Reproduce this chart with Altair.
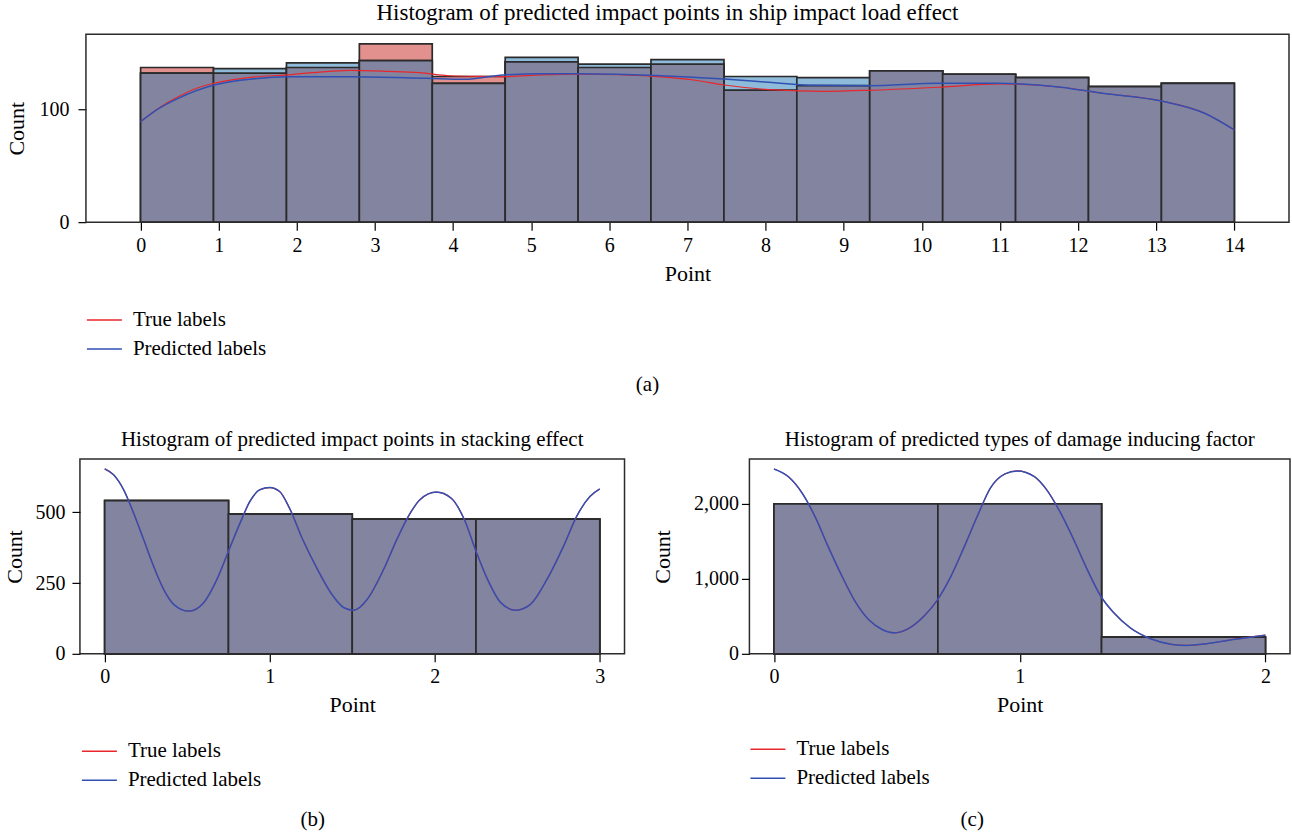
import altair as alt
import pandas as pd

FONT = "Liberation Serif"
FS_TICK = 20
FS_TEXT = 21
FS_AXT = 22
RED = "#e8262c"
BLUE = "#3150b3"
SALMON = "#e3918f"
LIGHTBLUE = "#8fbbda"
OVERLAP = "#8385a0"
EDGE = "#2b2b2b"
SERIES = ["True labels", "Predicted labels"]

# ---------- (a) ship impact load effect ----------
a_edges = [0.0, 0.933, 1.867, 2.8, 3.733, 4.667, 5.6, 6.533, 7.467, 8.4, 9.333,
           10.267, 11.2, 12.133, 13.067, 14.0]
a_true = [137, 132, 137, 158, 129, 142, 137, 140, 117, 121, 134, 131, 128, 120, 123]
a_pred = [132, 136, 141, 143, 123, 146, 140, 144, 129, 128, 134, 131, 128, 120, 123]
a_kde_true_x = [0.0, 0.23, 0.48, 0.72, 0.94, 1.21, 1.46, 1.87, 2.19, 2.68, 3.17, 3.57,
                3.96, 4.4, 4.67, 5.13, 5.62, 6.11, 6.6, 7.08, 7.47, 8.12, 8.75, 9.33,
                10.21, 11.0, 11.78, 12.31, 13.07, 13.62, 14.0]
a_kde_true_y = [89, 100.9, 111, 118.6, 123, 126.5, 128.6, 130.4, 132.4, 134.5, 133.6,
                132.4, 129.7, 129.1, 128.9, 130.4, 131.2, 130.6, 128.9, 125.9, 121.5,
                117.1, 115.9, 116.8, 119.5, 122.4, 119.5, 114.2, 107.3, 96.5, 81.7]
a_kde_pred_x = [0.0, 0.23, 0.48, 0.94, 1.46, 1.87, 2.68, 3.66, 4.15, 4.64, 5.13, 5.62,
                6.11, 6.6, 7.47, 8.12, 8.64, 9.33, 10.21, 11.0, 11.78, 12.31, 13.07,
                13.62, 14.0]
a_kde_pred_y = [89, 100.5, 109.7, 121.5, 127.1, 128.9, 128.9, 127.4, 126.5, 130.4,
                131.5, 131.5, 131, 130, 126.8, 123.5, 121.2, 120.9, 123, 123, 119.5,
                114.2, 107.3, 96.5, 81.7]

# ---------- (b) stacking effect ----------
b_edges = [0.0, 0.75, 1.5, 2.25, 3.0]
b_true = [542, 494, 476, 476]
b_pred = [542, 494, 476, 476]
b_kde_x = [0.0, 0.054, 0.115, 0.175, 0.236, 0.296, 0.357, 0.418, 0.509, 0.6, 0.68,
           0.75, 0.82, 0.88, 0.94, 1.0, 1.06, 1.12, 1.2, 1.29, 1.37, 1.45, 1.51, 1.59,
           1.69, 1.77, 1.84, 1.91, 2.01, 2.1, 2.18, 2.25, 2.32, 2.4, 2.49, 2.58, 2.68,
           2.78, 2.86, 2.94, 3.0]
b_kde_y = [654, 633, 580, 498, 404, 310, 228, 175, 151, 181, 263, 363, 462, 539, 580,
           588, 574, 515, 404, 298, 216, 163, 154, 192, 298, 404, 486, 545, 572, 550,
           474, 363, 263, 181, 154, 175, 263, 380, 486, 556, 583]

# ---------- (c) damage inducing factor ----------
c_edges = [0.0, 0.667, 1.333, 2.0]
c_true = [1996, 1996, 222]
c_pred = [1996, 1996, 222]
c_kde_x = [0.0, 0.06, 0.115, 0.17, 0.22, 0.277, 0.33, 0.385, 0.44, 0.49, 0.545, 0.61,
           0.666, 0.72, 0.775, 0.83, 0.88, 0.94, 0.99, 1.06, 1.11, 1.167, 1.22, 1.275,
           1.33, 1.383, 1.45, 1.53, 1.62, 1.68, 1.76, 1.87, 2.0]
c_kde_y = [2460, 2353, 2137, 1805, 1430, 1031, 699, 456, 324, 279, 332, 500, 722, 1031,
           1430, 1850, 2203, 2394, 2434, 2358, 2182, 1871, 1518, 1120, 766, 545, 345,
           204, 125, 112, 134, 191, 248]


def panel(title, title_fs, title_dx, edges, true_c, pred_c, kt_x, kt_y, kp_x, kp_y,
          xdom, ydom, xticks, yticks, width, height, yfmt, ytitle_pad, ylabel_pad,
          legend_x, legend_y, tag, tag_x, tag_y, inset=0):
    bars = pd.DataFrame({
        "start": edges[:-1],
        "end": edges[1:],
        "true": true_c,
        "pred": pred_c,
    })
    bars["both"] = bars[["true", "pred"]].min(axis=1)

    if inset:
        xscale = alt.Scale(domain=xdom, nice=False, zero=False, range=[inset, width])
    else:
        xscale = alt.Scale(domain=xdom, nice=False, zero=False)
    yscale = alt.Scale(domain=ydom, nice=False, zero=False)
    xaxis = alt.Axis(values=xticks, title="Point", format="d", labelPadding=5,
                     titlePadding=8, titleX=inset + (width - inset) / 2)
    yaxis = alt.Axis(values=yticks, title="Count", format=yfmt, labelPadding=ylabel_pad,
                     titlePadding=ytitle_pad, offset=-inset)

    base = alt.Chart(bars)

    def barlayer(field, color):
        return base.mark_rect(fill=color, stroke=EDGE, strokeWidth=1.7).encode(
            x=alt.X("start:Q", scale=xscale, axis=xaxis),
            x2="end:Q",
            y=alt.Y(f"{field}:Q", scale=yscale, axis=yaxis),
            y2=alt.datum(0),
        )

    kde = pd.concat([
        pd.DataFrame({"x": kt_x, "y": kt_y, "series": SERIES[0]}),
        pd.DataFrame({"x": kp_x, "y": kp_y, "series": SERIES[1]}),
    ])
    color = alt.Color(
        "series:N",
        scale=alt.Scale(domain=SERIES, range=[RED, BLUE]),
        legend=alt.Legend(
            title=None, orient="none", legendX=legend_x, legendY=legend_y,
            symbolType="stroke", symbolSize=1225, symbolStrokeWidth=1.5,
            labelFont=FONT, labelFontSize=FS_TEXT, labelColor="black", labelOffset=10,
            clipHeight=29, rowPadding=0, padding=0,
        ),
    )

    def linelayer(name, sw):
        return alt.Chart(kde).transform_filter(
            alt.datum.series == name
        ).mark_line(strokeWidth=sw, interpolate="monotone").encode(
            x=alt.X("x:Q", scale=xscale, axis=xaxis),
            y=alt.Y("y:Q", scale=yscale, axis=yaxis),
            color=color,
        )

    tag_layer = alt.Chart(pd.DataFrame({"tag": [tag]})).mark_text(
        font=FONT, fontSize=FS_TEXT, color="black", baseline="middle", align="center"
    ).encode(text="tag:N", x=alt.value(tag_x), y=alt.value(tag_y))

    layers = [
        barlayer("true", SALMON),
        barlayer("pred", LIGHTBLUE),
        barlayer("both", OVERLAP),
        linelayer(SERIES[0], 1.2),
        linelayer(SERIES[1], 1.5),
        tag_layer,
    ]
    props = dict(
        width=width, height=height,
        title=alt.TitleParams(title, font=FONT, fontSize=title_fs, fontWeight="normal",
                              color="black", offset=9, dx=title_dx),
    )
    if inset:
        frame = alt.Chart(pd.DataFrame({"f": [0]})).mark_rect(
            fill="transparent", stroke=EDGE, strokeWidth=1.5
        ).encode(x=alt.value(inset), x2=alt.value(width), y=alt.value(0),
                 y2=alt.value(height))
        layers.append(frame)
        props["view"] = alt.ViewBackground(stroke="transparent")
    return alt.layer(*layers).properties(**props)


chart_a = panel("Histogram of predicted impact points in ship impact load effect", 23, -17,
                a_edges, a_true, a_pred, a_kde_true_x, a_kde_true_y, a_kde_pred_x,
                a_kde_pred_y, [-0.7, 14.7], [0, 166.4], list(range(15)), [0, 100],
                1210, 188, "d", 10, 9, 6, 271.5, "(a)", 568, 351, inset=6)

chart_b = panel("Histogram of predicted impact points in stacking effect", 21, 0,
                b_edges, b_true, b_pred, b_kde_x, b_kde_y, b_kde_x, b_kde_y,
                [-0.15, 3.15], [0, 689], [0, 1, 2, 3], [0, 250, 500],
                545, 195, "d", 8, 7, 1, 278, "(b)", 233, 361)

chart_c = panel("Histogram of predicted types of damage inducing factor", 21, 0,
                c_edges, c_true, c_pred, c_kde_x, c_kde_y, c_kde_x, c_kde_y,
                [-0.1, 2.1], [0, 2593], [0, 1, 2], [0, 1000, 2000],
                541, 195, ",d", 19, 3, 0, 276, "(c)", 223, 361)

bottom = alt.hconcat(chart_b, chart_c, spacing=25).resolve_scale(
    color="independent").resolve_legend(color="independent")

chart = alt.vconcat(chart_a, bottom, spacing=32).resolve_scale(
    color="independent").resolve_legend(color="independent").properties(
    padding={"left": 3, "right": 1, "top": 0, "bottom": 2},
    background="white",
).configure_view(
    stroke=EDGE, strokeWidth=1.5
).configure_axis(
    domain=False, grid=False, tickColor="black", tickSize=8, tickWidth=1.2,
    labelFont=FONT, labelFontSize=FS_TICK, labelColor="black",
    titleFont=FONT, titleFontSize=FS_AXT, titleFontWeight="normal", titleColor="black",
)

chart.save("out.html", embed_options={"renderer": "svg", "actions": False})
